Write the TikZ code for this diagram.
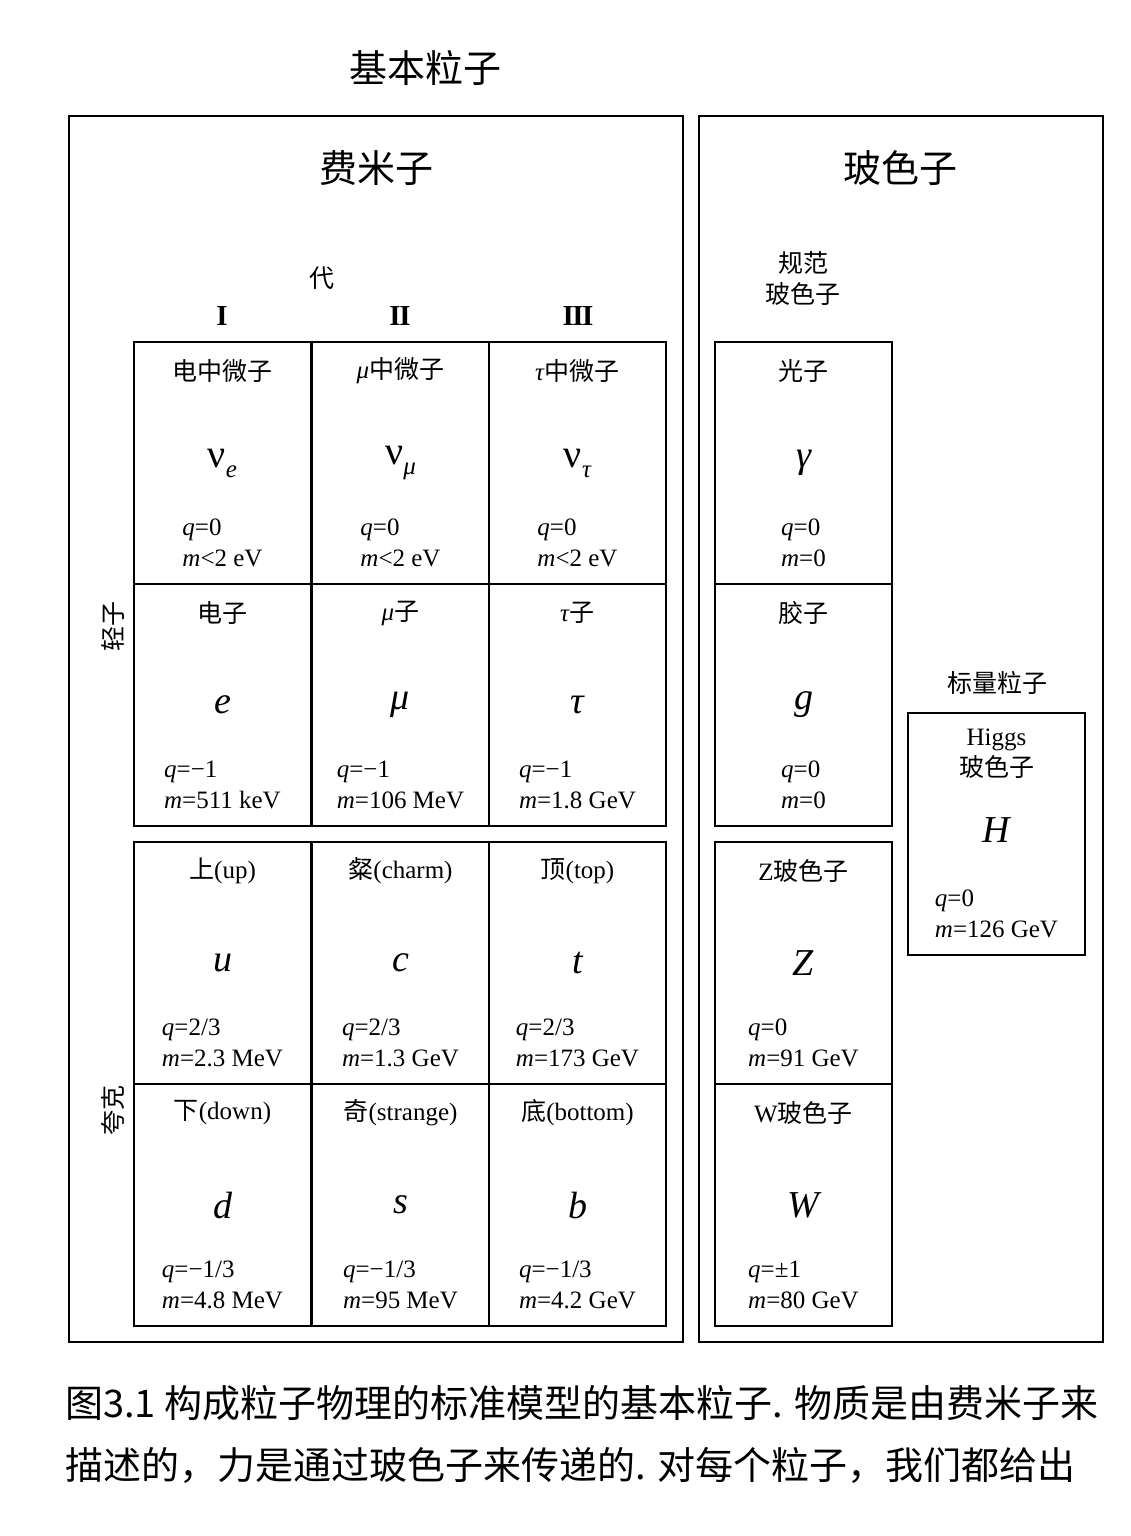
\documentclass[tikz,border=0pt]{standalone}
\usepackage{fontspec}
\setmainfont{Liberation Serif}
\newfontfamily\cjk{Noto Sans CJK SC}
\usepackage{tikz}
\usetikzlibrary{positioning}

\newcommand{\qv}[1]{\textit{q}=#1}
\newcommand{\mv}[1]{\textit{m}=#1}
\newcommand{\nusub}[1]{{\fontsize{40}{40}\selectfont\upshape ν}\raisebox{-10pt}{\fontsize{25}{25}\selectfont\textit{#1}}}

% one particle cell: name, corner, title, symbol, charge, mass
\newcommand{\particle}[6]{%
  \node[cell] (#1) at (#2) {};
  \node[cname] (#1-name) at ([yshift=-29pt]#1.north) {#3};
  \node[csym] (#1-sym) at ([yshift=-121pt]#1.north) {#4};
  \node[cdata] (#1-data) at ([yshift=-201pt]#1.north) {#5\\#6};
}

\tikzset{
  cell/.style={rectangle, draw, line width=2.2pt, minimum width=177pt, minimum height=242pt, anchor=north west, inner sep=0pt, outer sep=0pt},
  bigbox/.style={rectangle, draw, line width=1.8pt, anchor=north west, inner sep=0pt, outer sep=0pt},
  cname/.style={font=\fontsize{25}{31}\selectfont, inner sep=0pt},
  csym/.style={font=\fontsize{38}{40}\selectfont\itshape, inner sep=0pt},
  cdata/.style={font=\fontsize{25}{31}\selectfont, align=left, inner sep=0pt},
  head/.style={font=\cjk\fontsize{38}{38}\selectfont, inner sep=0pt},
  caption/.style={font=\cjk\fontsize{38}{38}\selectfont, anchor=west, inner sep=0pt},
}

\begin{document}
\begin{tikzpicture}[x=1pt, y=-1pt]
    \useasboundingbox (0,0) rectangle (1130,1536);

    \node[head] (title) at (425,68) {基本粒子};

    \node[bigbox, minimum width=614pt, minimum height=1226pt] (fermions) at (69,116) {};
    \node[bigbox, minimum width=404pt, minimum height=1226pt] (bosons) at (699,116) {};
    \node[head] (fermions-title) at (376,168) {费米子};
    \node[head] (bosons-title) at (900,168) {玻色子};

    % generations
    \node[cname] (gen) at (322,278) {{\cjk 代}};
    \node[font=\fontsize{29}{29}\selectfont\bfseries, inner sep=0pt] (gen1) at (222,316) {I};
    \node[font=\fontsize{29}{29}\selectfont\bfseries, inner sep=0pt] (gen2) at (400,316) {I\kern-1.5pt I};
    \node[font=\fontsize{29}{29}\selectfont\bfseries, inner sep=0pt] (gen3) at (578,316) {I\kern-1.5pt I\kern-1.5pt I};

    \node[cname, rotate=90] (leptons) at (113,626) {{\cjk 轻子}};
    \node[cname, rotate=90] (quarks) at (113,1110) {{\cjk 夸克}};

    % leptons
    \particle{nue}{134,342}{{\cjk 电中微子}}{\nusub{e}}{\qv{0}}{\textit{m}<2 eV}
    \particle{numu}{312,342}{\textit{μ}{\cjk 中微子}}{\nusub{μ}}{\qv{0}}{\textit{m}<2 eV}
    \particle{nutau}{489,342}{\textit{τ}{\cjk 中微子}}{\nusub{τ}}{\qv{0}}{\textit{m}<2 eV}
    \particle{el}{134,584}{{\cjk 电子}}{e}{\qv{−1}}{\mv{511 keV}}
    \particle{mu}{312,584}{\textit{μ}{\cjk 子}}{μ}{\qv{−1}}{\mv{106 MeV}}
    \particle{tau}{489,584}{\textit{τ}{\cjk 子}}{τ}{\qv{−1}}{\mv{1.8 GeV}}

    % quarks
    \particle{up}{134,842}{{\cjk 上}(up)}{u}{\qv{2/3}}{\mv{2.3 MeV}}
    \particle{charm}{312,842}{{\cjk 粲}(charm)}{c}{\qv{2/3}}{\mv{1.3 GeV}}
    \particle{top}{489,842}{{\cjk 顶}(top)}{t}{\qv{2/3}}{\mv{173 GeV}}
    \particle{down}{134,1084}{{\cjk 下}(down)}{d}{\qv{−1/3}}{\mv{4.8 MeV}}
    \particle{strange}{312,1084}{{\cjk 奇}(strange)}{s}{\qv{−1/3}}{\mv{95 MeV}}
    \particle{bottom}{489,1084}{{\cjk 底}(bottom)}{b}{\qv{−1/3}}{\mv{4.2 GeV}}

    % gauge bosons
    \node[cname, align=center] (gauge) at (803,278) {{\cjk 规范}\\{\cjk 玻色子}};
    \particle{photon}{715,342}{{\cjk 光子}}{γ}{\qv{0}}{\mv{0}}
    \particle{gluon}{715,584}{{\cjk 胶子}}{g}{\qv{0}}{\mv{0}}
    \particle{zboson}{715,842}{Z{\cjk 玻色子}}{Z}{\qv{0}}{\mv{91 GeV}}
    \particle{wboson}{715,1084}{W{\cjk 玻色子}}{W}{\qv{±1}}{\mv{80 GeV}}

    % scalar
    \node[cname] (scalar) at (997,683) {{\cjk 标量粒子}};
    \node[cell] (higgs) at (908,713) {};
    \node[cname, align=center] (higgs-name) at ([yshift=-41pt]higgs.north) {Higgs\\{\cjk 玻色子}};
    \node[csym] (higgs-sym) at ([yshift=-117pt]higgs.north) {H};
    \node[cdata] (higgs-data) at ([yshift=-201pt]higgs.north) {\qv{0}\\\mv{126 GeV}};

    % caption
    \node[caption] (cap1) at (65,1403) {图3.1 构成粒子物理的标准模型的基本粒子. 物质是由费米子来};
    \node[caption] (cap2) at (65,1465) {描述的，力是通过玻色子来传递的. 对每个粒子，我们都给出};
\end{tikzpicture}
\end{document}
